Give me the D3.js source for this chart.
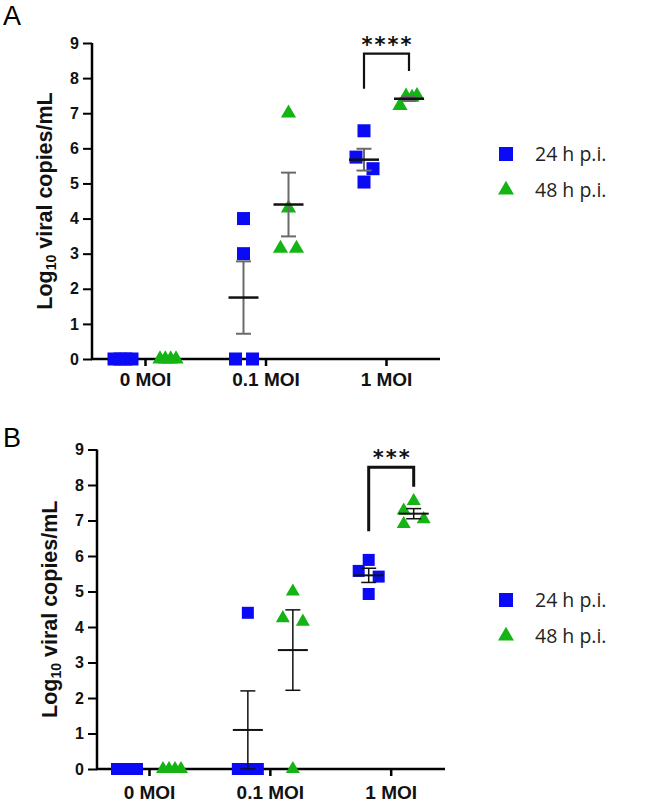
<!DOCTYPE html>
<html>
<head>
<meta charset="utf-8">
<script src="https://cdn.jsdelivr.net/npm/d3@7"></script>
<style>
  html, body { margin: 0; padding: 0; background: #fff; }
  svg { display: block; }
</style>
</head>
<body>
<svg id="chart" width="645" height="802"></svg>
<script>
// ---------------- DATA ----------------
const categories = ["0 MOI", "0.1 MOI", "1 MOI"];
const seriesNames = ["24 h p.i.", "48 h p.i."];
const yTicks = [0, 1, 2, 3, 4, 5, 6, 7, 8, 9];

// Panel A: log10 viral copies/mL, 4 replicates per group
const a24 = [[0, 0, 0, 0], [4.0, 3.0, 0, 0], [6.5, 5.75, 5.42, 5.04]];
const a48 = [[0, 0, 0, 0], [7.0, 4.3, 3.15, 3.15], [7.22, 7.48, 7.45, 7.5]];
// Panel B
const b24 = [[0, 0, 0, 0], [4.4, 0, 0, 0], [5.89, 5.58, 5.42, 4.93]];
const b48 = [[0, 0, 0, 0], [5.0, 4.25, 4.15, 0], [7.55, 7.28, 7.04, 6.9]];

const sigA = "****";
const sigB = "***";

// horizontal scatter (jitter) of replicates inside a group, px
const jitA24 = [[-9, -3, 3, 9], [0, 0, -8, 9], [0, -8, 9, 0]];
const jitA48 = [[-8, -2.7, 2.7, 8], [0, 0, -8, 8], [-9, -3, 3, 8]];
const jitB24 = [[-10, -3.5, 3.5, 10], [0, -10, 0, 10], [0, -10, 10, 0]];
const jitB48 = [[-9, -3, 3, 9], [0, -10, 10, 0], [0, -10, 10, -10]];

const BLUE = "#0a0af5";
const GREEN = "#14b414";

const svg = d3.select("#chart");

function sem(arr) {
  return d3.deviation(arr) / Math.sqrt(arr.length);
}

function drawPanel(cfg) {
  const g = svg.append("g");
  const y = d3.scaleLinear().domain([0, 9]).range([cfg.y0, cfg.y9]);
  const x = d3.scalePoint().domain(categories).range([cfg.xFirst, cfg.xLast]);
  const off = [-22, 23];

  // panel letter
  g.append("text").attr("x", 3).attr("y", cfg.letterY)
    .attr("font-family", "Liberation Sans, Arial, sans-serif").attr("font-size", 27)
    .attr("fill", "#000").text(cfg.letter);

  // y axis
  const yAxis = d3.axisLeft(y).tickValues(yTicks).tickFormat(d3.format("d"))
    .tickSize(9).tickPadding(4);
  const ya = g.append("g").attr("transform", `translate(${cfg.axisX},0)`).call(yAxis);
  ya.select(".domain").attr("stroke", "#000").attr("stroke-width", 2.5)
    .attr("d", `M0,${cfg.y0 + 1}V${cfg.y9}`);
  ya.selectAll(".tick line").attr("stroke", "#000").attr("stroke-width", 2);
  ya.selectAll(".tick text").attr("font-family", "Liberation Sans, Arial, sans-serif")
    .attr("font-weight", "bold").attr("font-size", 16).attr("fill", "#111");

  // x axis
  const xAxis = d3.axisBottom(x).tickSize(7).tickPadding(cfg.xPad);
  const xa = g.append("g").attr("transform", `translate(0,${cfg.y0})`).call(xAxis);
  xa.select(".domain").attr("stroke", "#000").attr("stroke-width", 2.5)
    .attr("d", `M${cfg.axisX - 1},0H${cfg.xEnd}`);
  xa.selectAll(".tick line").attr("stroke", "#000").attr("stroke-width", 2.5);
  xa.selectAll(".tick text").attr("font-family", "Liberation Sans, Arial, sans-serif")
    .attr("font-weight", "bold").attr("font-size", 19).attr("fill", "#111");

  // y title
  const t = g.append("text")
    .attr("transform", `translate(${cfg.titleX},${(cfg.y0 + cfg.y9) / 2}) rotate(-90)`)
    .attr("text-anchor", "middle")
    .attr("font-family", "Liberation Sans, Arial, sans-serif")
    .attr("font-weight", "bold").attr("font-size", 21.5).attr("fill", "#111");
  t.append("tspan").text("Log");
  t.append("tspan").attr("font-size", 14).attr("dy", 4).text("10");
  t.append("tspan").attr("dy", -4).text(" viral copies/mL");

  const groups = [cfg.d24, cfg.d48];
  const jits = [cfg.j24, cfg.j48];

  // points
  groups.forEach((ser, s) => {
    ser.forEach((vals, ci) => {
      const cx0 = x(categories[ci]) + off[s];
      vals.forEach((v, k) => {
        const cx = cx0 + jits[s][ci][k];
        const cy = y(v);
        if (s === 0) {
          g.append("rect").attr("x", cx - cfg.sq / 2).attr("y", cy - cfg.sq / 2)
            .attr("width", cfg.sq).attr("height", cfg.sq).attr("fill", BLUE);
        } else {
          const sym = d3.symbol().type(d3.symbolTriangle).size(cfg.tri);
          g.append("path").attr("d", sym()).attr("transform", `translate(${cx},${cy})`)
            .attr("fill", GREEN);
        }
      });
    });
  });

  // mean +/- SEM
  groups.forEach((ser, s) => {
    ser.forEach((vals, ci) => {
      const m = d3.mean(vals);
      const e = sem(vals);
      if (e === 0) return;
      const cx = x(categories[ci]) + off[s];
      g.append("line").attr("x1", cx).attr("x2", cx).attr("y1", y(m - e)).attr("y2", y(m + e))
        .attr("stroke", cfg.errColor).attr("stroke-width", cfg.errW);
      [m - e, m + e].forEach(v => {
        g.append("line").attr("x1", cx - 7.5).attr("x2", cx + 7.5).attr("y1", y(v)).attr("y2", y(v))
          .attr("stroke", cfg.errColor).attr("stroke-width", cfg.errW);
      });
      g.append("line").attr("x1", cx - 15).attr("x2", cx + 15).attr("y1", y(m)).attr("y2", y(m))
        .attr("stroke", "#111").attr("stroke-width", cfg.meanW);
    });
  });

  // significance bracket on 1 MOI
  const ci = 2;
  const xl = x(categories[ci]) + off[0];
  const xr = x(categories[ci]) + off[1];
  const top = y(cfg.brTop);
  const leftEnd = y(cfg.brLeft);
  const rightEnd = y(cfg.brRight);
  g.append("path").attr("d", `M${xl},${leftEnd}V${top}H${xr}V${rightEnd}`)
    .attr("fill", "none").attr("stroke", "#111").attr("stroke-width", cfg.brW);
  g.append("text").attr("x", (xl + xr) / 2 + 1).attr("y", top - cfg.starGap)
    .attr("text-anchor", "middle").attr("font-family", "DejaVu Sans, sans-serif")
    .attr("font-weight", "bold").attr("font-size", 21).attr("letter-spacing", 2)
    .attr("fill", "#111").text(cfg.sig);

  // legend
  const lg = g.append("g");
  seriesNames.forEach((name, s) => {
    const ly = cfg.legY + s * 36;
    if (s === 0) {
      lg.append("rect").attr("x", 506 - 7).attr("y", ly - 7).attr("width", 14).attr("height", 14)
        .attr("fill", BLUE);
    } else {
      lg.append("path").attr("d", d3.symbol().type(d3.symbolTriangle).size(110)())
        .attr("transform", `translate(506,${ly})`).attr("fill", GREEN);
    }
    lg.append("text").attr("x", 535).attr("y", ly + 6.5)
      .attr("font-family", "Open Sans, sans-serif").attr("font-size", 19.5)
      .attr("fill", "#222").text(name);
  });
}

drawPanel({
  letter: "A", letterY: 25,
  y0: 359, y9: 43, axisX: 92, xFirst: 145, xLast: 386, xEnd: 440, titleX: 52, xPad: 7,
  d24: a24, d48: a48, j24: jitA24, j48: jitA48,
  sq: 13, tri: 100, errColor: "#6a6a6a", errW: 2, meanW: 2.5,
  brTop: 8.7, brLeft: 7.7, brRight: 8.2, brW: 2.2, starGap: 2, sig: sigA,
  legY: 154
});

drawPanel({
  letter: "B", letterY: 447,
  y0: 769, y9: 449.5, axisX: 97, xFirst: 149, xLast: 390.7, xEnd: 445, titleX: 56.5, xPad: 10,
  d24: b24, d48: b48, j24: jitB24, j48: jitB48,
  sq: 12, tri: 85, errColor: "#111", errW: 1.5, meanW: 2,
  brTop: 8.5, brLeft: 6.7, brRight: 7.95, brW: 3, starGap: 2, sig: sigB,
  legY: 600
});
</script>
</body>
</html>
